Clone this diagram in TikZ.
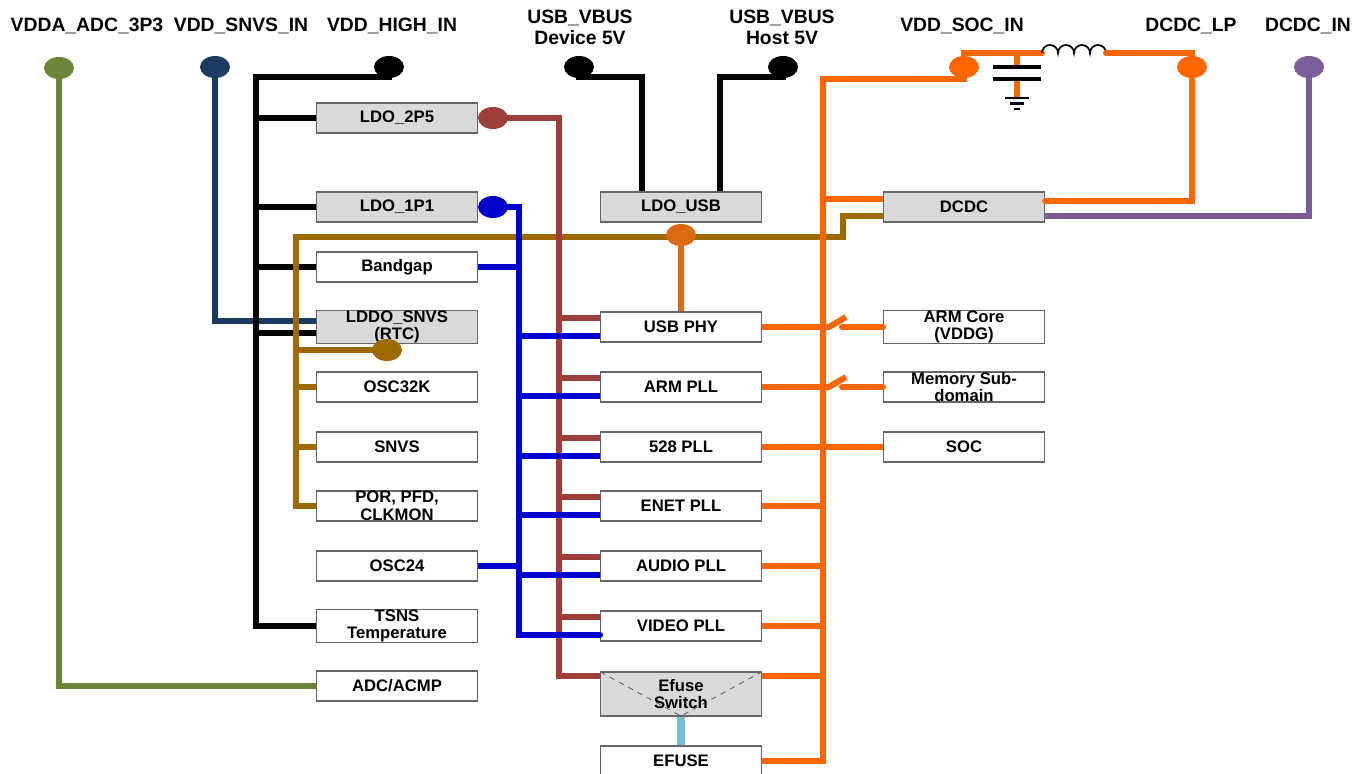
\documentclass[tikz,border=0pt]{standalone}
\usepackage{fontspec}
\setmainfont{Liberation Sans}
\usetikzlibrary{shapes.geometric}
\definecolor{olivewire}{HTML}{6B8539}
\definecolor{navywire}{HTML}{1C3A62}
\definecolor{ochre}{HTML}{9C6A00}
\definecolor{rust}{HTML}{9E3E38}
\definecolor{bluewire}{HTML}{0000CC}
\definecolor{orangewire}{HTML}{FF6600}
\definecolor{usborange}{HTML}{DB6A12}
\definecolor{purplewire}{HTML}{7B5E98}
\definecolor{cyanwire}{HTML}{72C0D2}
\definecolor{boxfill}{HTML}{D9D9D9}
\definecolor{boxedge}{HTML}{666666}
\begin{document}
\begin{tikzpicture}[x=0.02cm, y=-0.02cm,
  wire/.style={line width=3.4pt},
  blk/.style={draw=boxedge, line width=0.6pt, fill=white, minimum width=3.22cm, minimum height=0.6cm, inner sep=0pt, align=center, font=\fontsize{9.5}{10}\selectfont\bfseries},
  gblk/.style={blk, fill=boxfill},
  pin/.style={ellipse, minimum width=0.6cm, minimum height=0.44cm, inner sep=0pt},
  lbl/.style={font=\fontsize{11}{12}\selectfont\bfseries, align=center}]
\useasboundingbox (0,0) rectangle (1369,774);
\node[lbl] (adclbl) at (87,26) {VDDA\_ADC\_3P3};
\node[lbl] (snvslbl) at (241,26) {VDD\_SNVS\_IN};
\node[lbl] (highlbl) at (392,26) {VDD\_HIGH\_IN};
\node[lbl] (devlbl) at (580,27) {USB\_VBUS\\Device 5V};
\node[lbl] (hostlbl) at (782,27) {USB\_VBUS\\Host 5V};
\node[lbl] (soclbl) at (962,26) {VDD\_SOC\_IN};
\node[lbl] (lplbl) at (1191,26) {DCDC\_LP};
\node[lbl] (inlbl) at (1308,26) {DCDC\_IN};
\node[pin, fill=olivewire] (adcpin) at (59,68) {};
\node[pin, fill=navywire] (snvspin) at (215,67) {};
\node[pin, fill=black] (highpin) at (389,67) {};
\node[pin, fill=black] (devpin) at (579,67) {};
\node[pin, fill=black] (hostpin) at (783,67) {};
\node[pin, fill=orangewire] (socpin) at (964,67) {};
\node[pin, fill=orangewire] (lppin) at (1192,67) {};
\node[pin, fill=purplewire] (inpin) at (1309,67) {};
\node[gblk] (ldo2p5) at (397,118) {LDO\_2P5};
\node[gblk] (ldo1p1) at (397,207) {LDO\_1P1};
\node[blk] (bandgap) at (397,267) {Bandgap};
\node[gblk] (ldosnvs) at (397,327) {LDDO\_SNVS\\(RTC)};
\node[blk] (osc32k) at (397,387) {OSC32K};
\node[blk] (snvs) at (397,447) {SNVS};
\node[blk] (por) at (397,506) {POR, PFD,\\CLKMON};
\node[blk] (osc24) at (397,566) {OSC24};
\node[blk] (tsns) at (397,626) {TSNS\\Temperature};
\node[blk] (adc) at (397,686) {ADC/ACMP};
\node[gblk] (ldousb) at (681,207) {LDO\_USB};
\node[blk] (usbphy) at (681,327) {USB PHY};
\node[blk] (armpll) at (681,387) {ARM PLL};
\node[blk] (pll528) at (681,447) {528 PLL};
\node[blk] (enetpll) at (681,506) {ENET PLL};
\node[blk] (audiopll) at (681,566) {AUDIO PLL};
\node[blk] (videopll) at (681,626) {VIDEO PLL};
\node[gblk, minimum height=0.88cm, path picture={\draw[dashed, line width=0.4pt, black!70] (path picture bounding box.north west) -- (path picture bounding box.south) -- (path picture bounding box.north east);}] (efsw) at (681,694) {Efuse\\Switch};
\node[blk] (efuse) at (681,761) {EFUSE};
\node[gblk] (dcdc) at (964,207) {DCDC};
\node[blk] (armcore) at (964,327) {ARM Core\\(VDDG)};
\node[blk] (memory) at (964,387) {Memory Sub-\\domain};
\node[blk] (soc) at (964,447) {SOC};
\coordinate (hbus) at (256,77);
\coordinate (obus) at (296,237);
\coordinate (ojog) at (843,237);
\coordinate (rbus) at (559,118);
\coordinate (bbus) at (519,207);
\coordinate (sbus) at (823,79);
\coordinate (lin) at (1042,53);
\coordinate (lout) at (1106,53);
\coordinate (cap) at (1017,53);
\draw[wire, olivewire] (adcpin.center) |- (adc.west);
\draw[wire, navywire] (snvspin.center) |- ([yshift=0.12cm]ldosnvs.west);
\draw[wire] (highpin.center) |- (hbus) |- (tsns.west);
\draw[wire] (ldo2p5.west) -- (ldo2p5.west -| hbus);
\draw[wire] (ldo1p1.west) -- (ldo1p1.west -| hbus);
\draw[wire] (bandgap.west) -- (bandgap.west -| hbus);
\draw[wire] ([yshift=-0.12cm]ldosnvs.west) -- ([yshift=-0.12cm]ldosnvs.west -| hbus);
\draw[wire] (devpin.center) -- ++(0,10) -| ([xshift=-0.78cm]ldousb.north);
\draw[wire] (hostpin.center) -- ++(0,10) -| ([xshift=0.78cm]ldousb.north);
\draw[wire, ochre] ([yshift=-0.18cm]dcdc.west) -| (ojog) -- (obus) |- (por.west);
\draw[wire, ochre] (osc32k.west) -- (osc32k.west -| obus);
\draw[wire, ochre] (snvs.west) -- (snvs.west -| obus);
\node[pin, fill=ochre] (rtcpin) at (387,350) {};
\draw[wire, ochre] (rtcpin.center) -- (rtcpin.center -| obus);
\node[pin, fill=usborange] (usbpin) at (681,235) {};
\draw[wire, usborange] (usbpin.center) -- (usbphy.north);
\node[pin, fill=rust] (p2p5) at (493,118) {};
\draw[wire, rust] (p2p5.center) -- (rbus) |- ([yshift=-0.1cm]efsw.north west);
\draw[wire, rust] ([yshift=0.18cm]usbphy.west) -- ([yshift=0.18cm]usbphy.west -| rbus);
\draw[wire, rust] ([yshift=0.18cm]armpll.west) -- ([yshift=0.18cm]armpll.west -| rbus);
\draw[wire, rust] ([yshift=0.18cm]pll528.west) -- ([yshift=0.18cm]pll528.west -| rbus);
\draw[wire, rust] ([yshift=0.18cm]enetpll.west) -- ([yshift=0.18cm]enetpll.west -| rbus);
\draw[wire, rust] ([yshift=0.18cm]audiopll.west) -- ([yshift=0.18cm]audiopll.west -| rbus);
\draw[wire, rust] ([yshift=0.18cm]videopll.west) -- ([yshift=0.18cm]videopll.west -| rbus);
\node[pin, fill=bluewire] (p1p1) at (493,207) {};
\draw[wire, bluewire, line cap=round] (p1p1.center) -- (bbus) |- ([yshift=-0.18cm]videopll.west);
\draw[wire, bluewire] (bandgap.east) -- (bandgap.east -| bbus);
\draw[wire, bluewire] (osc24.east) -- (osc24.east -| bbus);
\draw[wire, bluewire] ([yshift=-0.18cm]usbphy.west) -- ([yshift=-0.18cm]usbphy.west -| bbus);
\draw[wire, bluewire] ([yshift=-0.18cm]armpll.west) -- ([yshift=-0.18cm]armpll.west -| bbus);
\draw[wire, bluewire] ([yshift=-0.18cm]pll528.west) -- ([yshift=-0.18cm]pll528.west -| bbus);
\draw[wire, bluewire] ([yshift=-0.18cm]enetpll.west) -- ([yshift=-0.18cm]enetpll.west -| bbus);
\draw[wire, bluewire] ([yshift=-0.18cm]audiopll.west) -- ([yshift=-0.18cm]audiopll.west -| bbus);
\draw[wire, orangewire] (socpin.center) |- (sbus) |- (efuse.east);
\draw[wire, orangewire] ([yshift=0.16cm]dcdc.west) -- ([yshift=0.16cm]dcdc.west -| sbus);
\draw[wire, orangewire] (usbphy.east) -- ++(67,0) -- ++(17,-10);
\draw[wire, orangewire, line cap=round] (armcore.west) -- ++(-41,0);
\draw[wire, orangewire] (armpll.east) -- ++(67,0) -- ++(17,-10);
\draw[wire, orangewire, line cap=round] (memory.west) -- ++(-41,0);
\draw[wire, orangewire] (pll528.east) -- (soc.west);
\draw[wire, orangewire] (enetpll.east) -- (enetpll.east -| sbus);
\draw[wire, orangewire] (audiopll.east) -- (audiopll.east -| sbus);
\draw[wire, orangewire] (videopll.east) -- (videopll.east -| sbus);
\draw[wire, orangewire] ([yshift=-0.1cm]efsw.north east) -- ([yshift=-0.1cm]efsw.north east -| sbus);
\draw[line width=4.5pt, cyanwire] (efsw.south) -- (efuse.north);
\draw[wire, orangewire, line cap=round] (socpin.center) |- (lin);
\draw[line width=1pt] (lin) arc[start angle=180, end angle=0, radius=0.16cm] arc[start angle=180, end angle=0, radius=0.16cm] arc[start angle=180, end angle=0, radius=0.16cm] arc[start angle=180, end angle=0, radius=0.16cm];
\draw[wire, orangewire, line cap=round] (lout) -| (lppin.center) |- ([yshift=0.12cm]dcdc.east);
\draw[wire, purplewire] (inpin.center) |- ([yshift=-0.18cm]dcdc.east);
\draw[wire, orangewire] (cap) -- ++(0,14);
\draw[wire, orangewire] (1017,79) -- (1017,98);
\draw[line width=2.6pt] (993,67) -- (1041,67);
\draw[line width=2.6pt] (993,79) -- (1041,79);
\draw[line width=1.6pt] (1005,98) -- (1029,98);
\draw[line width=1.6pt] (1010,103.5) -- (1024,103.5);
\draw[line width=1.6pt] (1014,109) -- (1020,109);
\end{tikzpicture}
\end{document}
